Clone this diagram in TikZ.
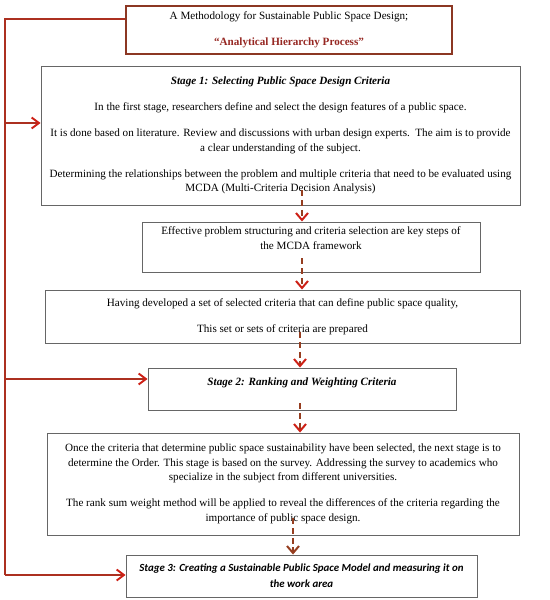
\documentclass[tikz,border=0pt]{standalone}
\usepackage{fontspec}
\setmainfont{Liberation Serif}
\newfontfamily\calibrifont{Carlito}
\usetikzlibrary{arrows.meta, calc}

\definecolor{trunkred}{RGB}{172,48,32}
\definecolor{tipred}{RGB}{205,32,22}
\definecolor{dashbrown}{RGB}{150,62,32}
\definecolor{framebrown}{RGB}{140,55,35}
\definecolor{titlered}{RGB}{150,40,35}

\begin{document}
\begin{tikzpicture}[x=0.3mm, y=-0.3mm, thick, align=center,
    every node/.style={font=\fontsize{9.5}{12.3}\selectfont, inner sep=0pt},
    box/.style={draw=black!60, line width=0.8pt},
    trunk/.style={draw=trunkred, line width=2.4pt},
    trunkarrow/.style={trunk, -{Straight Barb[length=2.2mm, width=3.3mm, color=tipred, line width=1.6pt]}},
    flow/.style={draw=dashbrown, line width=2pt, dash pattern=on 1.8mm off 1.1mm,
        -{Straight Barb[length=2.1mm, width=3.6mm, color=tipred, line width=1.7pt]}}]
    \useasboundingbox (0, 0) rectangle (550, 600);

    % BLOCKS
    \node (title) at (289, 30) [draw=framebrown, line width=2pt, minimum width=97.8mm, minimum height=14.4mm]
        {A Methodology for Sustainable Public Space Design;\\[10pt]
         \textcolor{titlered}{\textbf{“Analytical Hierarchy Process”}}};

    \node (stage1) at (280.5, 135.5) [box, minimum width=143.7mm, minimum height=41.7mm]
        {\textbf{\textit{Stage 1: Selecting Public Space Design Criteria}}\\[10pt]
         In the first stage, researchers define and select the design features of a public space.\\[10pt]
         It is done based on literature. Review and discussions with urban design experts.\ \ The aim is to provide\\
         a clear understanding of the subject.\\[10pt]
         Determining the relationships between the problem and multiple criteria that need to be evaluated using\\
         MCDA (Multi-Criteria Decision Analysis)};

    \node (mcda) at (311, 247) [box, minimum width=101.4mm, minimum height=15mm]
        {Effective problem structuring and criteria selection are key steps of\\
         the MCDA framework\\[3pt]~};

    \node (criteria) at (282.5, 316.5) [box, minimum width=142.5mm, minimum height=15.9mm]
        {Having developed a set of selected criteria that can define public space quality,\\[10pt]
         This set or sets of criteria are prepared};

    \node (stage2) at (302, 389) [box, minimum width=92.4mm, minimum height=12.6mm]
        {\textbf{\textit{Stage 2: Ranking and Weighting Criteria}}\\~};

    \node (survey) at (283, 484) [box, minimum width=141.6mm, minimum height=30.6mm]
        {Once the criteria that determine public space sustainability have been selected, the next stage is to\\
         determine the Order. This stage is based on the survey. Addressing the survey to academics who\\
         specialize in the subject from different universities.\\[10pt]
         The rank sum weight method will be applied to reveal the differences of the criteria regarding the\\
         importance of public space design.};

    \node (stage3) at (301.5, 576) [box, minimum width=105.3mm, minimum height=12.6mm,
        font=\calibrifont\fontsize{9.3}{13.5}\selectfont]
        {\textbf{\textit{Stage 3: Creating a Sustainable Public Space Model and measuring it on}}\\
         \textbf{\textit{the work area}}};

    % CONNEXIONS
    % Left trunk
    \coordinate (bustop) at (5, 19);
    \coordinate (busbot) at (5, 575);
    \coordinate (in1) at (5, 123);
    \coordinate (in2) at (5, 379);
    \draw[trunk] (title.west |- bustop) -- (bustop) -- (busbot);
    \draw[trunkarrow] (in1) -- (in1 -| stage1.west);
    \draw[trunkarrow] (in2) -- (in2 -| stage2.west);
    \draw[trunkarrow] (busbot) -- (busbot -| stage3.west);

    % Dashed flow down the middle
    \coordinate (axis) at (302, 0);
    \coordinate (axislow) at (300, 0);
    \coordinate (axisend) at (293, 0);
    \draw[flow] ($(stage1.south -| axis)+(0,-15)$) -- (mcda.north -| axis);
    \draw[flow] ($(mcda.south -| axis)+(0,-14)$) -- (criteria.north -| axis);
    \draw[flow] ($(criteria.south -| axislow)+(0,-11)$) -- (stage2.north -| axislow);
    \draw[flow] ($(stage2.south -| axislow)+(0,-7)$) -- (survey.north -| axislow);
    \draw[flow, -{Straight Barb[length=2.1mm, width=3.6mm, color=dashbrown, line width=1.7pt]}]
        ($(survey.south -| axisend)+(0,-17)$) -- (stage3.north -| axisend);
\end{tikzpicture}
\end{document}
